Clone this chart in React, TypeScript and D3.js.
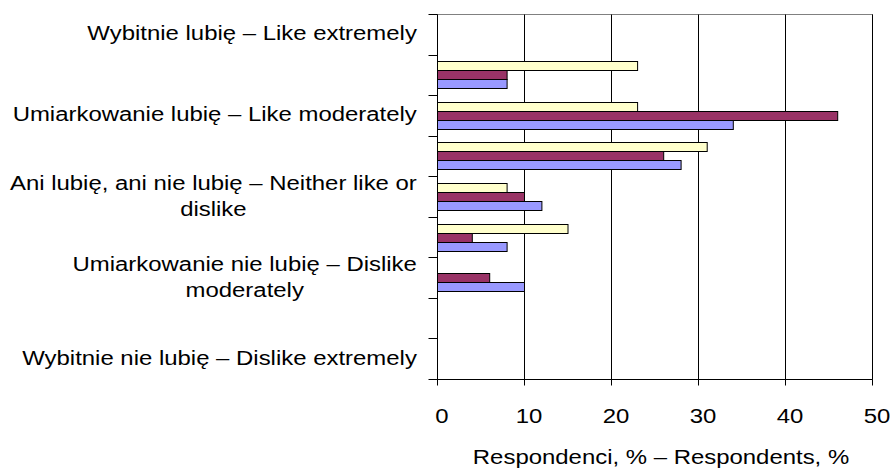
import React from "react";
import * as d3 from "d3";

// Hedonic scale categories, top to bottom (Excel skips every other label)
const categoryLabels = [
  "Wybitnie lubię – Like extremely",
  "",
  "Umiarkowanie lubię – Like moderately",
  "",
  "Ani lubię, ani nie lubię – Neither like or dislike",
  "",
  "Umiarkowanie nie lubię – Dislike moderately",
  "",
  "Wybitnie nie lubię – Dislike extremely",
];

// Percent of respondents per category, one array per series
const blueValues = [0, 8, 34, 28, 12, 8, 10, 0, 0];
const purpleValues = [0, 8, 46, 26, 10, 4, 6, 0, 0];
const yellowValues = [0, 23, 23, 31, 8, 15, 0, 0, 0];

const xTickValues = [0, 10, 20, 30, 40, 50];
const xAxisTitle = "Respondenci, % – Respondents, %";

// Series drawn top to bottom inside each category band
const seriesList = [
  { key: "yellow", values: yellowValues, color: "#FFFFCC" },
  { key: "purple", values: purpleValues, color: "#993366" },
  { key: "blue", values: blueValues, color: "#9999FF" },
];

const WIDTH = 893;
const HEIGHT = 468;
const PLOT = { left: 437, right: 872, top: 14, bottom: 379 };
const FONT_FAMILY = "'Liberation Sans', Arial, sans-serif";
const FONT_SIZE = 21;
const STRETCH = 1.14;
const LINE_HEIGHT = 26;
const LABEL_RIGHT = 417;
const LABEL_MAX_WIDTH = 368;

let measureCtx: CanvasRenderingContext2D | null = null;
function textWidth(text: string): number {
  if (!measureCtx) {
    measureCtx = document.createElement("canvas").getContext("2d");
  }
  if (!measureCtx) return text.length * FONT_SIZE * 0.55;
  measureCtx.font = `${FONT_SIZE}px 'Liberation Sans'`;
  return measureCtx.measureText(text).width;
}

function wrapLabel(label: string, maxWidth: number): string[] {
  const words = label.split(" ");
  const lines: string[] = [];
  let current = "";
  for (const w of words) {
    const trial = current ? current + " " + w : w;
    if (current && textWidth(trial) > maxWidth) {
      lines.push(current);
      current = w;
    } else {
      current = trial;
    }
  }
  if (current) lines.push(current);
  return lines;
}

export default function App() {
  const x = d3.scaleLinear().domain([0, 50]).range([PLOT.left, PLOT.right]);
  const indices = categoryLabels.map((_, i) => i);
  const y = d3
    .scaleBand<number>()
    .domain(indices)
    .range([PLOT.top, PLOT.bottom])
    .paddingInner(1 / 3)
    .paddingOuter(1 / 6);
  const inner = d3
    .scaleBand<string>()
    .domain(seriesList.map((s) => s.key))
    .range([0, y.bandwidth()]);

  const step = y.step();
  const bandEdges = d3.range(categoryLabels.length + 1).map((i) => PLOT.top + i * step);
  const px = (v: number) => Math.round(v) + 0.5;
  const x0 = px(x(0));

  const textProps = {
    fontFamily: FONT_FAMILY,
    fontSize: FONT_SIZE,
    fill: "#000",
  };

  return (
    <div style={{ position: "absolute", left: 0, top: 0 }}>
      <svg width={WIDTH} height={HEIGHT} style={{ display: "block", background: "#fff" }}>
        {/* plot area border */}
        <rect
          x={x0}
          y={px(PLOT.top)}
          width={px(x(50)) - x0}
          height={px(PLOT.bottom) - px(PLOT.top)}
          fill="none"
          stroke="#808080"
          strokeWidth={1}
        />
        {/* vertical gridlines */}
        {xTickValues
          .filter((v) => v !== 0)
          .map((v) => (
            <line
              key={`g${v}`}
              x1={px(x(v))}
              x2={px(x(v))}
              y1={px(PLOT.top)}
              y2={px(PLOT.bottom)}
              stroke="#000"
              strokeWidth={1}
            />
          ))}
        {/* bars */}
        {indices.map((i) =>
          seriesList.map((s) => {
            const v = s.values[i];
            if (!v) return null;
            const top = (y(i) ?? 0) + (inner(s.key) ?? 0);
            return (
              <rect
                key={`${s.key}${i}`}
                x={x0}
                y={px(top)}
                width={x(v) - x(0)}
                height={Math.round(inner.bandwidth())}
                fill={s.color}
                stroke="#000"
                strokeWidth={1}
              />
            );
          })
        )}
        {/* y axis */}
        <line x1={x0} x2={x0} y1={px(PLOT.top)} y2={px(PLOT.bottom)} stroke="#000" />
        {bandEdges.map((e, i) => (
          <line key={`yt${i}`} x1={x0 - 9} x2={x0} y1={px(e)} y2={px(e)} stroke="#000" />
        ))}
        {/* x axis */}
        <line x1={x0} x2={px(x(50))} y1={px(PLOT.bottom)} y2={px(PLOT.bottom)} stroke="#000" />
        {xTickValues.map((v) => (
          <line
            key={`xt${v}`}
            x1={px(x(v))}
            x2={px(x(v))}
            y1={px(PLOT.bottom)}
            y2={px(PLOT.bottom) + 6}
            stroke="#000"
          />
        ))}
        {xTickValues.map((v) => (
          <text
            key={`xl${v}`}
            {...textProps}
            textAnchor="middle"
            transform={`translate(${x(v) + 5},423) scale(${STRETCH},1)`}
          >
            {v}
          </text>
        ))}
        <text
          {...textProps}
          textAnchor="middle"
          transform={`translate(661,464) scale(${STRETCH},1)`}
        >
          {xAxisTitle}
        </text>
        {/* category labels */}
        {indices.map((i) => {
          const label = categoryLabels[i];
          if (!label) return null;
          const lines = wrapLabel(label, LABEL_MAX_WIDTH);
          const blockWidth = d3.max(lines, (l) => textWidth(l)) ?? 0;
          const cx = LABEL_RIGHT - (blockWidth * STRETCH) / 2;
          const center = (y(i) ?? 0) + y.bandwidth() / 2;
          const firstBaseline = center - ((lines.length - 1) * LINE_HEIGHT) / 2 + 6;
          return (
            <g key={`cl${i}`}>
              {lines.map((l, k) => (
                <text
                  key={k}
                  {...textProps}
                  textAnchor="middle"
                  transform={`translate(${cx},${firstBaseline + k * LINE_HEIGHT}) scale(${STRETCH},1)`}
                >
                  {l}
                </text>
              ))}
            </g>
          );
        })}
      </svg>
    </div>
  );
}
